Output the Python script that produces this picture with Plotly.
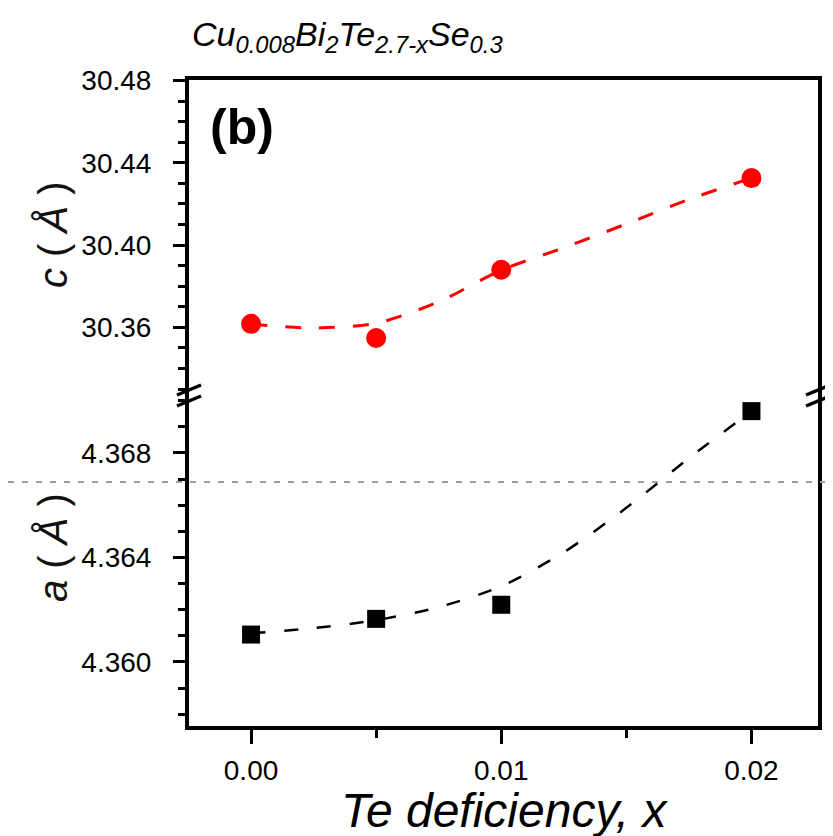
import plotly.graph_objects as go
from plotly.subplots import make_subplots

# ---- data ----
te_x = [0.0, 0.005, 0.01, 0.02]
c_vals = [30.3617, 30.3548, 30.3880, 30.4326]
a_vals = [4.36105, 4.36165, 4.36219, 4.36960]

fit_x = [0.0, 0.0025, 0.005, 0.0075, 0.01, 0.0125, 0.015, 0.0175, 0.02]
c_fit = [30.3615, 30.3597, 30.3620, 30.3724, 30.3878, 30.3987, 30.4103, 30.4222, 30.4326]
a_fit = [4.3611, 4.3613, 4.3616, 4.3621, 4.3629, 4.3642, 4.3659, 4.3678, 4.3696]

x_ticks = [0.0, 0.01, 0.02]
x_tick_text = ["0.00", "0.01", "0.02"]
c_ticks = [30.36, 30.40, 30.44, 30.48]
a_ticks = [4.360, 4.364, 4.368]

FONT = "Liberation Sans, Arial, sans-serif"
W, H = 833, 836
ML, MR, MT, MB = 181, 23, 72, 118
PW, PH = W - ML - MR, H - MT - MB
brk = (718 - 388) / PH

fig = make_subplots(rows=2, cols=1, shared_xaxes=False, vertical_spacing=0)

# top: c
fig.add_trace(go.Scatter(x=fit_x, y=c_fit, mode="lines",
                         line=dict(color="#ff0000", width=3, dash="16px,18px", shape="spline", smoothing=0.8),
                         hoverinfo="skip", showlegend=False), row=1, col=1)
fig.add_trace(go.Scatter(x=te_x, y=c_vals, mode="markers", marker=dict(symbol="circle", size=20, color="#ff0000"),
                         showlegend=False), row=1, col=1)
# bottom: a
fig.add_trace(go.Scatter(x=fit_x, y=a_fit, mode="lines",
                         line=dict(color="#000000", width=2.5, dash="14px,19px", shape="spline", smoothing=0.8),
                         hoverinfo="skip", showlegend=False), row=2, col=1)
fig.add_trace(go.Scatter(x=te_x, y=a_vals, mode="markers", marker=dict(symbol="square", size=18, color="#000000"),
                         showlegend=False), row=2, col=1)

xr = [-0.00248, 0.02266]
tickfont = dict(family=FONT, size=28, color="#000000")

fig.update_layout(
    width=W, height=H, margin=dict(l=ML, r=MR, t=MT, b=MB),
    paper_bgcolor="white", plot_bgcolor="white",
    showlegend=False,
    xaxis=dict(range=xr, showline=True, linecolor="black", linewidth=4, side="top", mirror=False,
               showticklabels=False, ticks="", showgrid=False, zeroline=False, anchor="y"),
    xaxis2=dict(range=xr, showline=True, linecolor="black", linewidth=4, showgrid=False, zeroline=False,
                tickmode="array", tickvals=x_ticks, ticktext=x_tick_text, ticks="outside", ticklen=14, tickwidth=3,
                tickcolor="black", tickfont=tickfont, ticklabelstandoff=2,
                minor=dict(tickvals=[0.005, 0.015], ticks="outside", ticklen=8, tickwidth=3, tickcolor="black", showgrid=False),
                anchor="y2"),
    yaxis=dict(domain=[brk, 1.0], range=[30.3266, 30.4803], showline=True, linecolor="black", linewidth=4, mirror=True,
               showgrid=False, zeroline=False, tickmode="array", tickvals=c_ticks, ticktext=[f"{v:.2f}" for v in c_ticks],
               ticks="outside", ticklen=12, tickwidth=3, tickcolor="black", tickfont=tickfont, ticklabelstandoff=16,
               minor=dict(dtick=0.01, tick0=30.36, ticks="outside", ticklen=7, tickwidth=3, tickcolor="black", showgrid=False)),
    yaxis2=dict(domain=[0.0, brk], range=[4.35755, 4.37018], showline=True, linecolor="black", linewidth=4, mirror=True,
                showgrid=False, zeroline=False, tickmode="array", tickvals=a_ticks, ticktext=[f"{v:.3f}" for v in a_ticks],
                ticks="outside", ticklen=12, tickwidth=3, tickcolor="black", tickfont=tickfont, ticklabelstandoff=16,
                minor=dict(dtick=0.001, tick0=4.360, ticks="outside", ticklen=7, tickwidth=3, tickcolor="black", showgrid=False)),
)

def px_x(px):
    return (px - ML) / PW

def px_y(py):
    return (H - MB - py) / PH

shapes = []
# gray dashed horizontal line across the picture
shapes.append(dict(type="line", xref="paper", yref="paper", x0=px_x(0), x1=px_x(W), y0=px_y(474), y1=px_y(474),
                   line=dict(color="#a0a0a0", width=2, dash="6px,8px")))
# axis break marks
for xc in (181, 810):
    for yc in (382, 393):
        shapes.append(dict(type="line", xref="paper", yref="paper", x0=px_x(xc - 12), y0=px_y(yc + 5),
                           x1=px_x(xc + 12), y1=px_y(yc - 5), line=dict(color="black", width=3.5)))
fig.update_layout(shapes=shapes)

annotations = [
    dict(text="<i>Cu<sub>0.008</sub>Bi<sub>2</sub>Te<sub>2.7-x</sub>Se<sub>0.3</sub></i>", xref="paper", yref="paper",
         x=px_x(182), y=px_y(29), xanchor="left", yanchor="middle", showarrow=False,
         font=dict(family=FONT, size=34, color="black")),
    dict(text="<b>(b)</b>", xref="paper", yref="paper", x=px_x(234), y=px_y(119), xanchor="center", yanchor="middle",
         showarrow=False, font=dict(family=FONT, size=50, color="black")),
    dict(text="<i>c</i> ( <i>Å</i> )", xref="paper", yref="paper", x=px_x(45), y=px_y(227), xanchor="center", yanchor="middle",
         textangle=-90, showarrow=False, font=dict(family=FONT, size=40, color="#111111")),
    dict(text="<i>a</i> ( <i>Å</i> )", xref="paper", yref="paper", x=px_x(45), y=px_y(540), xanchor="center", yanchor="middle",
         textangle=-90, showarrow=False, font=dict(family=FONT, size=40, color="#111111")),
    dict(text="<i>Te deficiency, x</i>", xref="paper", yref="paper", x=px_x(497), y=px_y(802), xanchor="center", yanchor="middle",
         showarrow=False, font=dict(family=FONT, size=48, color="black")),
]
fig.update_layout(annotations=annotations)

fig.write_html("out.html")
